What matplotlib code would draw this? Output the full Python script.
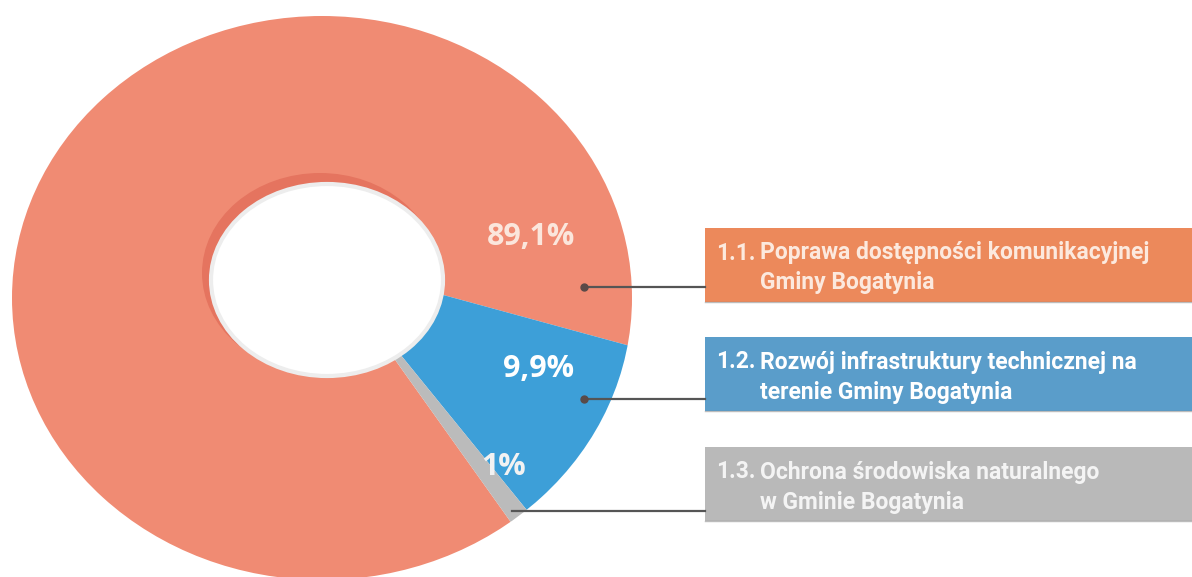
import matplotlib
matplotlib.use('Agg')
import matplotlib.pyplot as plt
from matplotlib.patches import Ellipse, Rectangle

# dane
shares = [89.1, 9.9, 1.0]
pct_labels = ['89,1%', '9,9%', '1%']
codes = ['1.1.', '1.2.', '1.3.']
names = [('Poprawa dostępności komunikacyjnej', 'Gminy Bogatynia'),
         ('Rozwój infrastruktury technicznej na', 'terenie Gminy Bogatynia'),
         ('Ochrona środowiska naturalnego', 'w Gminie Bogatynia')]

wedge_colors = ['#F08B73', '#3D9FD8', '#BBBBBB']
box_colors = ['#EC895B', '#5A9DCA', '#B9B9B9']
text_colors = ['#FCE9DE', '#FFFFFF', '#F4F4F4']
pct_colors = ['#FBE6DC', '#FFFFFF', '#F2F2F2']

W, H = 1192, 577
fig = plt.figure(figsize=(W / 100, H / 100), dpi=100)
ax = fig.add_axes([0, 0, 1, 1])

def Y(y):
    # piksele od góry -> współrzędne osi
    return H - y

# wycinki ze środkiem przesuniętym w górę, przycięte do eliptycznego obrysu (perspektywa)
wedges, _ = ax.pie(shares, colors=wedge_colors, startangle=-54.5, counterclock=False,
                   center=(326, Y(263)), radius=360, wedgeprops=dict(linewidth=0),
                   frame=True)
outline = Ellipse((322, Y(298)), 620, 564, fill=False, lw=0)
ax.add_patch(outline)
for w in wedges:
    w.set_clip_on(True)
    w.set_clip_path(outline)
ax.set_xlim(0, W)
ax.set_ylim(0, H)
ax.set_aspect('auto')
ax.axis('off')

# otwór z cieniem
ax.add_patch(Ellipse((320, Y(273)), 236, 200, color='#E5745F', lw=0))
ax.add_patch(Ellipse((327, Y(280)), 232, 192, facecolor='white', edgecolor='#EDEDED', lw=3))

pct_pos = [(531, 237), (539, 369), (504, 467)]
for (px, py), lab, c in zip(pct_pos, pct_labels, pct_colors):
    ax.text(px, Y(py), lab, color=c, fontsize=22, fontweight='bold', family=['Open Sans', 'DejaVu Sans'],
            ha='center', va='center')

# prostokąty legendy
box_top = [228, 337, 447]
box_h = 74
for yt, bc, code, (l1, l2), tc in zip(box_top, box_colors, codes, names, text_colors):
    ax.add_patch(Rectangle((705, Y(yt + box_h)), W - 705, box_h, facecolor=bc, edgecolor='none'))
    ax.plot([705, W], [Y(yt + box_h), Y(yt + box_h)], color='#7a7a7a', lw=1, alpha=0.5)
    kw = dict(color=tc, fontsize=16.5, fontweight='bold', va='center', ha='left',
              family=['Roboto', 'DejaVu Sans'])
    ax.text(716, Y(yt + 25), code, **kw)
    ax.text(760, Y(yt + 25), l1, **kw)
    ax.text(760, Y(yt + 55), l2, **kw)

# linie odniesienia
lines = [(584, 287), (584, 399), (512, 511)]
for i, (lx, ly) in enumerate(lines):
    ax.plot([lx, 705], [Y(ly), Y(ly)], color='#555555', lw=1.6)
    if i < 2:
        ax.plot(lx, Y(ly), 'o', color='#5a4a48', ms=5)

fig.savefig('out.png', dpi=100)
